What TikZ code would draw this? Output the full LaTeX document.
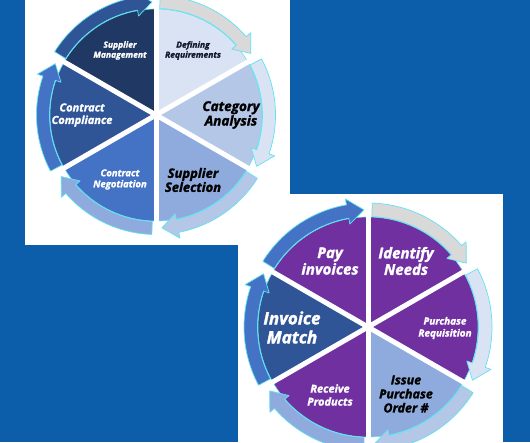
\documentclass[tikz,border=0pt]{standalone}
\usepackage{fontspec}
\setmainfont{Open Sans}[BoldItalicFeatures={FakeBold=1.6}]
\definecolor{bgblue}{HTML}{0C5EAA}
\definecolor{navy}{HTML}{203864}
\definecolor{lb1}{HTML}{DAE3F3}
\definecolor{lb2}{HTML}{B4C7E7}
\definecolor{lb3}{HTML}{8FAADC}
\definecolor{mb}{HTML}{4472C4}
\definecolor{db}{HTML}{2F5597}
\definecolor{purp}{HTML}{7030A0}
\definecolor{gry}{HTML}{D9D9D9}
\definecolor{cyanl}{HTML}{5FE3F2}
\definecolor{darktxt}{HTML}{141A2E}
\newcommand{\ringarrow}[6]{%
 \pgfmathsetmacro{\RAh}{#3+8}%
 \pgfmathsetmacro{\RAm}{(#4+#5)/2}%
 \pgfmathsetmacro{\RAi}{#4-6}%
 \pgfmathsetmacro{\RAo}{#5+6}%
 \filldraw[draw=cyanl, line width=0.7pt, fill=#6, line join=round, shift={(#1)}]
  (#2:#4pt) -- (#2:#5pt) arc[start angle=#2, end angle=\RAh, radius=#5pt]
  -- (\RAh:\RAo pt) -- (#3:\RAm pt) -- (\RAh:\RAi pt) -- (\RAh:#4pt)
  arc[start angle=\RAh, end angle=#2, radius=#4pt] -- cycle;}
\newcommand{\sector}[5]{% center, a1, a2, R, color
 \filldraw[fill=#5, draw=cyanl, line width=0.6pt, shift={(#1)}]
  (0,0) -- (#2:#4pt) arc[start angle=#2, end angle=#3, radius=#4pt] -- cycle;}
\tikzset{lbl/.style={align=center, font=\bfseries\itshape, inner sep=0pt}}
\begin{document}
\begin{tikzpicture}[x=1pt,y=1pt]
\useasboundingbox (0,0) rectangle (530,442);
\fill[bgblue] (0,0) rectangle (530,442);
\fill[white] (25,197) rectangle (290,442);
\fill[white] (238,0) rectangle (503,248);
% ---------- top circle ----------
\coordinate (ct) at (156,327);
\sector{ct}{90}{150}{106}{navy}
\sector{ct}{30}{90}{106}{lb1}
\sector{ct}{-30}{30}{106}{lb2}
\sector{ct}{-90}{-30}{106}{lb3}
\sector{ct}{210}{270}{106}{mb}
\sector{ct}{150}{210}{106}{db}
\foreach \a in {30,90,150,210,270,330}
  \draw[white, line width=5pt] (ct) -- ++(\a:108pt);
\ringarrow{ct}{148}{92}{106.5}{119.5}{db}
\ringarrow{ct}{88}{33}{106.5}{119.5}{gry}
\ringarrow{ct}{28}{-27}{106.5}{119.5}{lb1}
\ringarrow{ct}{-32}{-87}{106.5}{119.5}{lb2}
\ringarrow{ct}{268}{213}{106.5}{119.5}{lb3}
\ringarrow{ct}{208}{153}{106.5}{119.5}{mb}
\node[lbl, text=white, font=\bfseries\itshape\fontsize{8.5}{10}\selectfont] (t1) at (120,391.5) {Supplier\\Management};
\node[lbl, text=darktxt, font=\bfseries\itshape\fontsize{8.5}{10}\selectfont] (t2) at (193,391.5) {Defining\\Requirements};
\node[lbl, text=black, font=\bfseries\itshape\fontsize{13.5}{14.5}\selectfont] (t3) at (231,327) {Category\\Analysis};
\node[lbl, text=black, font=\bfseries\itshape\fontsize{13}{14}\selectfont] (t4) at (193,262) {Supplier\\Selection};
\node[lbl, text=white, font=\bfseries\itshape\fontsize{9.5}{11}\selectfont] (t5) at (120,262.5) {Contract\\Negotiation};
\node[lbl, text=white, font=\bfseries\itshape\fontsize{11}{12.5}\selectfont] (t6) at (82,327) {Contract\\Compliance};
% ---------- bottom circle ----------
\coordinate (cb) at (368,115);
\sector{cb}{90}{150}{110}{purp}
\sector{cb}{30}{90}{110}{purp}
\sector{cb}{-30}{30}{110}{purp}
\sector{cb}{-90}{-30}{110}{lb3}
\sector{cb}{210}{270}{110}{purp}
\sector{cb}{150}{210}{110}{db}
\foreach \a in {30,90,150,210,270,330}
  \draw[white, line width=5pt] (cb) -- ++(\a:112pt);
\ringarrow{cb}{148}{92}{110.5}{124}{mb}
\ringarrow{cb}{88}{33}{110.5}{124}{gry}
\ringarrow{cb}{28}{-27}{110.5}{124}{lb1}
\ringarrow{cb}{-32}{-87}{110.5}{124}{lb2}
\ringarrow{cb}{268}{213}{110.5}{124}{lb3}
\ringarrow{cb}{208}{153}{110.5}{124}{mb}
\node[lbl, text=white, font=\bfseries\itshape\fontsize{15}{16.5}\selectfont] (b1) at (330,181) {Pay\\invoices};
\node[lbl, text=white, font=\bfseries\itshape\fontsize{15}{16.5}\selectfont] (b2) at (406,181) {Identify\\Needs};
\node[lbl, text=white, font=\bfseries\itshape\fontsize{10}{12}\selectfont] (b3) at (445,114) {Purchase\\Requisition};
\node[lbl, text=black, font=\bfseries\itshape\fontsize{12.5}{14}\selectfont] (b4) at (406,48) {Issue\\Purchase\\Order \#};
\node[lbl, text=white, font=\bfseries\itshape\fontsize{11}{13}\selectfont] (b5) at (330,47) {Receive\\Products};
\node[lbl, text=white, font=\bfseries\itshape\fontsize{17}{19}\selectfont] (b6) at (292,114.5) {Invoice\\Match};
\end{tikzpicture}
\end{document}
